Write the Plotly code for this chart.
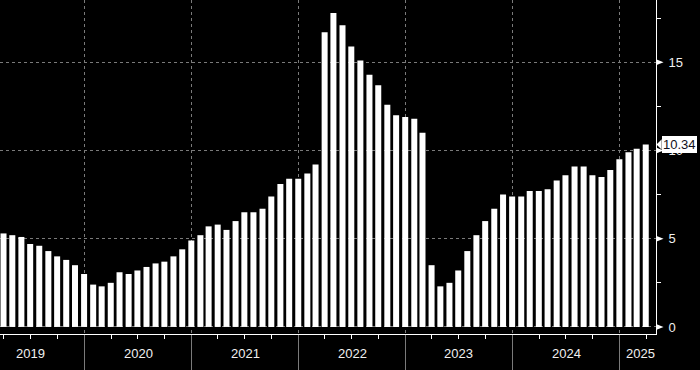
import pandas as pd
import plotly.graph_objects as go

# ---- data ----
months = [
    "2019-03", "2019-04", "2019-05", "2019-06", "2019-07", "2019-08", "2019-09", "2019-10", "2019-11", "2019-12",
    "2020-01", "2020-02", "2020-03", "2020-04", "2020-05", "2020-06", "2020-07", "2020-08", "2020-09", "2020-10", "2020-11", "2020-12",
    "2021-01", "2021-02", "2021-03", "2021-04", "2021-05", "2021-06", "2021-07", "2021-08", "2021-09", "2021-10", "2021-11", "2021-12",
    "2022-01", "2022-02", "2022-03", "2022-04", "2022-05", "2022-06", "2022-07", "2022-08", "2022-09", "2022-10", "2022-11", "2022-12",
    "2023-01", "2023-02", "2023-03", "2023-04", "2023-05", "2023-06", "2023-07", "2023-08", "2023-09", "2023-10", "2023-11", "2023-12",
    "2024-01", "2024-02", "2024-03", "2024-04", "2024-05", "2024-06", "2024-07", "2024-08", "2024-09", "2024-10", "2024-11", "2024-12",
    "2025-01", "2025-02", "2025-03",
]
values = [
    5.3, 5.2, 5.1, 4.7, 4.6, 4.3, 4.0, 3.8, 3.5, 3.0,
    2.4, 2.3, 2.5, 3.1, 3.0, 3.2, 3.4, 3.6, 3.7, 4.0, 4.4, 4.9,
    5.2, 5.7, 5.8, 5.5, 6.0, 6.5, 6.5, 6.7, 7.4, 8.1, 8.4, 8.4,
    8.7, 9.2, 16.7, 17.8, 17.1, 15.9, 15.1, 14.3, 13.7, 12.6, 12.0, 11.9,
    11.8, 11.0, 3.5, 2.3, 2.5, 3.2, 4.3, 5.2, 6.0, 6.7, 7.5, 7.4,
    7.4, 7.7, 7.7, 7.8, 8.3, 8.6, 9.1, 9.1, 8.6, 8.5, 8.9, 9.5,
    9.9, 10.1, 10.34,
]
year_labels = ["2019", "2020", "2021", "2022", "2023", "2024", "2025"]
y_ticks = [0, 5, 10, 15]
last_label = "10.34"

# month-end dates for bars
dates = [pd.Period(m, "M").end_time.normalize() for m in months]

x_start = pd.Timestamp("2019-03-19")
x_end = pd.Timestamp("2025-05-05")
DAY_MS = 86400000

FONT = "Liberation Sans"
GRID = "#7a7a7a"

fig = go.Figure()
fig.add_trace(go.Bar(
    x=dates, y=values,
    width=20.5 * DAY_MS,
    marker=dict(color="white", line=dict(width=0)),
    hoverinfo="x+y",
))

# year labels under the axis
annotations = []
for yl in year_labels:
    y0 = pd.Timestamp(f"{yl}-01-01")
    y1 = pd.Timestamp(f"{int(yl) + 1}-01-01")
    if y1 > x_end:
        mid = y0 + (x_end - y0) / 2 + pd.Timedelta(days=8)
    else:
        mid = y0 + (y1 - y0) / 2
    annotations.append(dict(
        x=mid, xref="x", y=-0.057, yref="paper",
        text=yl, showarrow=False, xanchor="center", yanchor="middle",
        font=dict(family=FONT, size=13, color="#f0f0f0"),
    ))

# last-value label box
annotations.append(dict(
    x=1.0085, xref="paper", y=values[-1], yref="y",
    text=last_label, showarrow=False, xanchor="left", yanchor="middle",
    bgcolor="white", borderpad=1, borderwidth=0,
    font=dict(family=FONT, size=13, color="#101020"),
))

shapes = []
# little right-pointing triangles at major y ticks
for v in y_ticks:
    shapes.append(dict(
        type="path", xref="paper", yref="y",
        path=f"M 1.0,{v - 0.17} L 1.0115,{v} L 1.0,{v + 0.17} Z",
        fillcolor="white", line=dict(width=0),
    ))
# pointer of the value box
shapes.append(dict(
    type="path", xref="paper", yref="y",
    path=f"M 1.0087,{values[-1] - 0.3} L 1.0008,{values[-1]} L 1.0087,{values[-1] + 0.3} Z",
    fillcolor="white", line=dict(width=0),
))

fig.update_layout(
    width=700, height=370,
    margin=dict(l=0, r=44, t=0, b=36),
    paper_bgcolor="black", plot_bgcolor="black",
    showlegend=False,
    bargap=0.3,
    annotations=annotations,
    shapes=shapes,
    xaxis=dict(
        type="date",
        range=[x_start, x_end],
        showgrid=True, gridcolor=GRID, griddash="dot", gridwidth=1,
        dtick="M12", tick0="2019-01-01",
        ticks="outside", ticklen=36, tickcolor=GRID, tickwidth=1,
        minor=dict(dtick="M3", tick0="2019-01-01", ticks="outside", ticklen=4,
                   tickcolor="white", tickwidth=1, showgrid=False),
        showticklabels=False,
        showline=True, linecolor="white", linewidth=1,
        zeroline=False,
        fixedrange=True,
    ),
    yaxis=dict(
        side="right",
        range=[-0.4, 18.53],
        tickvals=y_ticks,
        showgrid=True, gridcolor=GRID, griddash="dot", gridwidth=1,
        ticks="", ticklabelstandoff=9,
        minor=dict(tickvals=[2.5, 7.5, 12.5, 17.5], ticks="outside", ticklen=4,
                   tickcolor="white", tickwidth=1, showgrid=False),
        showline=True, linecolor="white", linewidth=1,
        zeroline=False,
        tickfont=dict(family=FONT, size=13, color="#f0f0f0"),
        fixedrange=True,
    ),
)

fig.write_html("out.html")
